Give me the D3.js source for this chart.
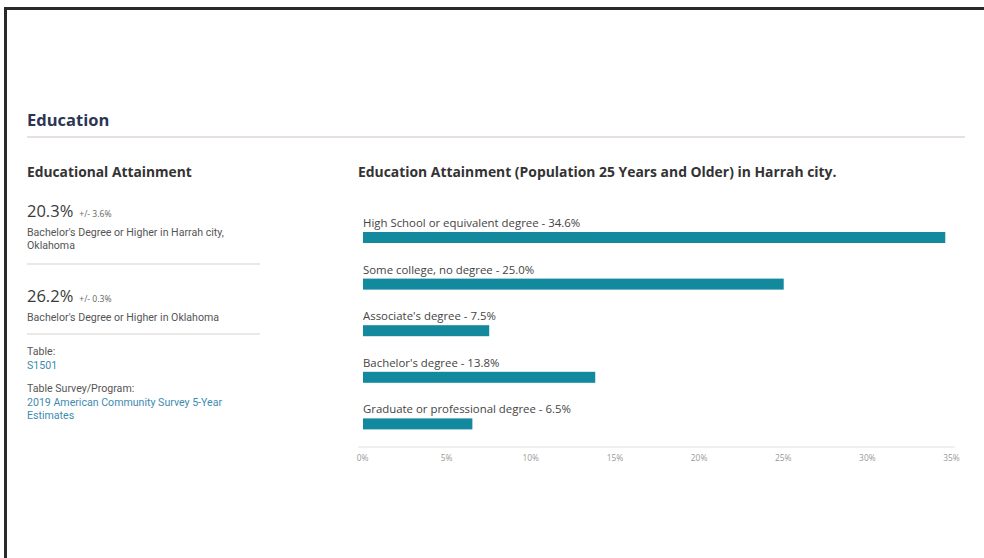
<!DOCTYPE html>
<html>
<head>
<meta charset="utf-8">
<script src="https://cdn.jsdelivr.net/npm/d3@7"></script>
<style>
  html, body { margin: 0; padding: 0; background: #fff; }
  svg { display: block; font-family: "Open Sans", Roboto, sans-serif; }
  .small { font-family: Roboto, "Open Sans", sans-serif; font-size: 10.6px; }
</style>
</head>
<body>
<svg id="chart" width="984" height="558"></svg>
<script>
// Educational attainment, population 25 years and older, Harrah city
const categories = [
  "High School or equivalent degree",
  "Some college, no degree",
  "Associate's degree",
  "Bachelor's degree",
  "Graduate or professional degree"
];
const values = [34.6, 25.0, 7.5, 13.8, 6.5];
const tickValues = [0, 5, 10, 15, 20, 25, 30, 35];

// Summary statistics for the side panel
const statValues = ["20.3%", "26.2%"];
const statMargins = ["+/- 3.6%", "+/- 0.3%"];
const statLabels = [
  ["Bachelor's Degree or Higher in Harrah city,", "Oklahoma"],
  ["Bachelor's Degree or Higher in Oklahoma"]
];
const tableId = "S1501";
const surveyLines = ["2019 American Community Survey 5-Year", "Estimates"];

const svg = d3.select("#chart");

// frame edges
svg.append("rect").attr("x", 4).attr("y", 7).attr("width", 980).attr("height", 3).attr("fill", "#2a2a2a");
svg.append("rect").attr("x", 4).attr("y", 7).attr("width", 3).attr("height", 551).attr("fill", "#2a2a2a");

// section header
svg.append("text").attr("x", 27).attr("y", 126)
  .attr("font-size", 16.5).attr("font-weight", 700).attr("fill", "#2c3553")
  .text("Education");
svg.append("line").attr("x1", 27).attr("x2", 965).attr("y1", 137).attr("y2", 137)
  .attr("stroke", "#e6e1df").attr("stroke-width", 2);

// ---- side panel ----
const side = svg.append("g");
side.append("text").attr("x", 27).attr("y", 177)
  .attr("font-size", 13.8).attr("font-weight", 700).attr("fill", "#333")
  .text("Educational Attainment");

const statTops = [204, 289];
statValues.forEach((v, i) => {
  const y0 = statTops[i];
  const t = side.append("text").attr("x", 27).attr("y", y0 + 13).attr("fill", "#3a3a3a");
  t.append("tspan").attr("font-size", 16.5).text(v);
  t.append("tspan").attr("font-size", 8.6).attr("dx", 6).attr("fill", "#666").text(statMargins[i]);
  statLabels[i].forEach((line, j) => {
    side.append("text").attr("class", "small").attr("x", 27).attr("y", y0 + 32 + j * 12.5)
      .attr("fill", "#555").text(line);
  });
});
[264, 334].forEach(y => {
  side.append("line").attr("x1", 27).attr("x2", 260).attr("y1", y).attr("y2", y)
    .attr("stroke", "#ebe8e6").attr("stroke-width", 2);
});

side.append("text").attr("class", "small").attr("x", 27).attr("y", 355).attr("fill", "#555").text("Table:");
side.append("text").attr("class", "small").attr("x", 27).attr("y", 369).attr("fill", "#3d8bb0").text(tableId);
side.append("text").attr("class", "small").attr("x", 27).attr("y", 392).attr("fill", "#555").text("Table Survey/Program:");
surveyLines.forEach((line, j) => {
  side.append("text").attr("class", "small").attr("x", 27).attr("y", 406 + j * 12.5)
    .attr("fill", "#3d8bb0").text(line);
});

// ---- bar chart ----
svg.append("text").attr("x", 358).attr("y", 177)
  .attr("font-size", 13.9).attr("font-weight", 700).attr("fill", "#333")
  .text("Education Attainment (Population 25 Years and Older) in Harrah city.");

const x = d3.scaleLinear().domain([0, 35]).range([362, 951]);
const y = d3.scaleBand().domain(categories).range([208, 441]).paddingInner(0).paddingOuter(0);

svg.append("line").attr("x1", 358).attr("x2", 955).attr("y1", 447).attr("y2", 447)
  .attr("stroke", "#f2efec").attr("stroke-width", 2);

const rows = svg.append("g").selectAll("g").data(categories).join("g")
  .attr("transform", d => `translate(0,${y(d)})`);

rows.append("text")
  .attr("x", x(0) + 1).attr("y", 19)
  .attr("font-size", 11.4).attr("fill", "#444")
  .text((d, i) => `${d} - ${values[i].toFixed(1)}%`);

rows.append("rect")
  .attr("x", x(0) + 1).attr("y", 24)
  .attr("width", (d, i) => x(values[i]) - x(0))
  .attr("height", 11)
  .attr("fill", "#12899d");

const axis = d3.axisBottom(x).tickValues(tickValues).tickSize(0).tickFormat(d => d + "%");
svg.append("g").attr("transform", "translate(0,452)").call(axis)
  .call(g => g.select(".domain").remove())
  .call(g => g.selectAll("text").attr("font-size", 8.4).attr("fill", "#999")
    .attr("font-family", "'Open Sans', sans-serif"));
</script>
</body>
</html>
